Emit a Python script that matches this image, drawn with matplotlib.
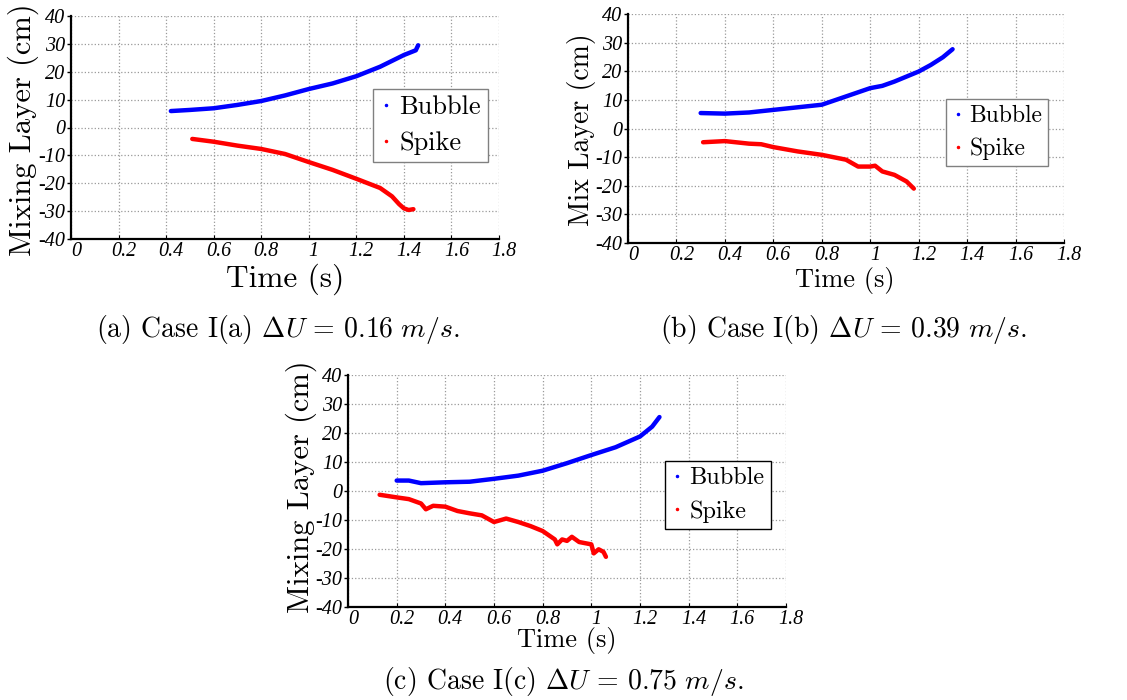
import numpy as np
import matplotlib
matplotlib.use("Agg")
import matplotlib.pyplot as plt
from matplotlib.lines import Line2D
from matplotlib.transforms import ScaledTranslation

plt.rcParams['mathtext.fontset'] = 'cm'
plt.rcParams['font.family'] = ['cmr10', 'DejaVu Serif']
plt.rcParams['axes.formatter.use_mathtext'] = True
plt.rcParams['axes.unicode_minus'] = False

# Case I(a)
t_bub_a = [0.42, 0.5, 0.6, 0.7, 0.8, 0.9, 1.0, 1.1, 1.2, 1.3, 1.4, 1.45, 1.46]
y_bub_a = [5.9, 6.3, 6.9, 8.1, 9.5, 11.5, 13.8, 15.8, 18.4, 21.8, 26.0, 27.7, 29.5]
t_spk_a = [0.51, 0.6, 0.7, 0.8, 0.9, 1.0, 1.1, 1.2, 1.3, 1.35, 1.38, 1.4, 1.42, 1.44]
y_spk_a = [-4.1, -5.1, -6.5, -7.7, -9.5, -12.4, -15.2, -18.4, -21.7, -24.7, -27.5, -29.0, -29.6, -29.3]

# Case I(b)
t_bub_b = [0.30, 0.4, 0.5, 0.6, 0.7, 0.8, 0.9, 1.0, 1.05, 1.1, 1.2, 1.25, 1.3, 1.34]
y_bub_b = [5.4, 5.2, 5.6, 6.5, 7.4, 8.3, 11.2, 14.1, 14.9, 16.4, 19.9, 22.2, 24.9, 27.7]
t_spk_b = [0.31, 0.4, 0.5, 0.55, 0.6, 0.7, 0.8, 0.9, 0.95, 1.0, 1.02, 1.05, 1.1, 1.15, 1.18]
y_spk_b = [-4.8, -4.4, -5.3, -5.5, -6.5, -8.0, -9.2, -10.9, -13.3, -13.3, -13.0, -15.0, -16.2, -18.5, -21.0]

# Case I(c)
t_bub_c = [0.2, 0.25, 0.3, 0.4, 0.5, 0.6, 0.7, 0.8, 0.9, 1.0, 1.1, 1.2, 1.25, 1.28]
y_bub_c = [3.6, 3.6, 2.7, 3.0, 3.2, 4.2, 5.3, 7.0, 9.6, 12.4, 15.1, 18.8, 22.2, 25.5]
t_spk_c = [0.13, 0.2, 0.25, 0.3, 0.32, 0.35, 0.4, 0.45, 0.5, 0.55, 0.6, 0.65, 0.7, 0.75,
           0.8, 0.85, 0.86, 0.88, 0.9, 0.92, 0.95, 1.0, 1.01, 1.03, 1.05, 1.06]
y_spk_c = [-1.3, -2.2, -2.8, -4.3, -6.3, -5.1, -5.4, -6.9, -7.7, -8.4, -10.7, -9.5, -10.7, -12.1,
           -13.8, -16.7, -18.4, -16.7, -17.2, -15.8, -17.6, -18.4, -21.5, -20.1, -21.0, -22.7]

xticks = [0, 0.2, 0.4, 0.6, 0.8, 1.0, 1.2, 1.4, 1.6, 1.8]
xtick_labels = ['0', '0.2', '0.4', '0.6', '0.8', '1', '1.2', '1.4', '1.6', '1.8']
yticks = [-40, -30, -20, -10, 0, 10, 20, 30, 40]
ytick_labels = ['-40', '-30', '-20', '-10', '0', '10', '20', '30', '40']

W, H = 1127, 700
fig = plt.figure(figsize=(W / 100, H / 100), dpi=100)


def px_axes(x0, x1, y0, y1):
    return fig.add_axes([x0 / W, 1 - y1 / H, (x1 - x0) / W, (y1 - y0) / H])


def panel(ax, tb, yb, ts, ys, ylabel, ylab_pos, xlab_pos, leg_xy, leg_edge, fs_lab, fs_leg):
    ax.plot(tb, yb, color=(0, 0, 1), lw=3.2, solid_capstyle='round')
    ax.plot(ts, ys, color=(1, 0, 0), lw=3.2, solid_capstyle='round')
    ax.set_xlim(0, 1.8)
    ax.set_ylim(-40, 40)
    ax.set_xticks(xticks)
    ax.set_xticklabels(xtick_labels, family='Liberation Serif', style='italic', fontsize=14.5)
    ax.set_yticks(yticks)
    ax.set_yticklabels(ytick_labels, family='Liberation Serif', style='italic', fontsize=14.5)
    ax.grid(True, linestyle=':', color='0.6', lw=0.9)
    ax.set_axisbelow(True)
    for s in ['top', 'right']:
        ax.spines[s].set_visible(False)
    for s in ['left', 'bottom']:
        ax.spines[s].set_linewidth(1.6)
    ax.tick_params(axis='y', direction='out', length=3, width=1, pad=1)
    ax.tick_params(axis='x', direction='in', length=3, width=0.8, pad=2)
    off = ScaledTranslation(5 / 100, 0, fig.dpi_scale_trans)
    for lab in ax.get_xticklabels():
        lab.set_transform(lab.get_transform() + off)
    ax.set_xlabel('Time (s)', fontsize=fs_lab[0], va='center')
    ax.xaxis.set_label_coords(*xlab_pos)
    ax.set_ylabel(ylabel, fontsize=fs_lab[1], va='center')
    ax.yaxis.set_label_coords(*ylab_pos)
    handles = [Line2D([], [], ls='none', marker='.', ms=3, color=(0, 0, 1)),
               Line2D([], [], ls='none', marker='.', ms=3, color=(1, 0, 0))]
    leg = ax.legend(handles, ['Bubble', 'Spike'], loc='upper left',
                    bbox_to_anchor=(leg_xy[0] / W, 1 - leg_xy[1] / H),
                    bbox_transform=fig.transFigure, borderaxespad=0,
                    fontsize=fs_leg, handlelength=0.5, handletextpad=0.25,
                    borderpad=0.25, labelspacing=0.45, fancybox=False,
                    framealpha=1, edgecolor=leg_edge)
    leg.get_frame().set_linewidth(1.0)


ax_a = px_axes(71, 499, 16, 239)
panel(ax_a, t_bub_a, y_bub_a, t_spk_a, y_spk_a, 'Mixing Layer (cm)',
      ((23 - 71) / 428, (239 - 130) / 223), (0.5, (239 - 279) / 223),
      (373, 89), '0.5', (22.5, 22), 19)

ax_b = px_axes(628, 1064, 14, 243)
panel(ax_b, t_bub_b, y_bub_b, t_spk_b, y_spk_b, 'Mix Layer (cm)',
      ((582 - 628) / 436, (243 - 130) / 229), (0.498, (243 - 280) / 229),
      (946, 99), '0.5', (19, 20), 17)

ax_c = px_axes(348, 786, 375, 607)
panel(ax_c, t_bub_c, y_bub_c, t_spk_c, y_spk_c, 'Mixing Layer (cm)',
      ((301 - 348) / 438, (607 - 487) / 232), (0.5, (607 - 641) / 232),
      (665, 461), 'black', (19, 22), 17.5)

cap_fs = 20
fig.text(278 / W, 1 - 329 / H, r'(a) Case I(a) $\Delta U\,=\,0.16\ m/s$.',
         ha='center', va='center', fontsize=cap_fs)
fig.text(843 / W, 1 - 329 / H, r'(b) Case I(b) $\Delta U\,=\,0.39\ m/s$.',
         ha='center', va='center', fontsize=cap_fs)
fig.text(563 / W, 1 - 682 / H, r'(c) Case I(c) $\Delta U\,=\,0.75\ m/s$.',
         ha='center', va='center', fontsize=cap_fs)

fig.savefig('out.png', dpi=100)
